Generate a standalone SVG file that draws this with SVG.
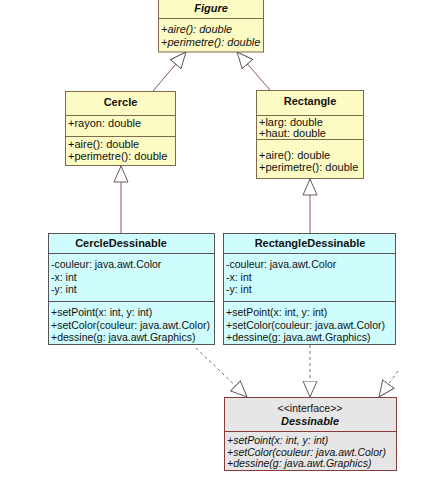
<svg xmlns="http://www.w3.org/2000/svg" width="433" height="483" viewBox="0 0 433 483">
  <style>
    text { font-family: "Liberation Sans", Arial, sans-serif; font-size: 10.5px; fill: #111; }
    .big { font-size: 11px; }
    .title { font-weight: bold; text-anchor: middle; font-size: 11px; }
    .abs { font-style: italic; }
    .yellow { fill: #fcfbc3; stroke: #7d6a4a; stroke-width: 1; }
    .cyan { fill: #cffcfc; stroke: #555; stroke-width: 1; }
    .iface { fill: #e6e6e6; stroke: #8a3a3a; stroke-width: 1; }
    .div-y { stroke: #7d6a4a; stroke-width: 1; }
    .div-c { stroke: #555; stroke-width: 1; }
    .div-i { stroke: #8a3a3a; stroke-width: 1; }
    .gen { stroke: #8a5a5a; stroke-width: 1; fill: none; }
    .real { stroke: #8a6a6a; stroke-width: 1; fill: none; stroke-dasharray: 3 3; }
  </style>
  <defs>
    <marker id="tri" viewBox="0 0 17 16" refX="16.5" refY="8" markerWidth="17" markerHeight="16" markerUnits="userSpaceOnUse" orient="auto">
      <path d="M0.5,1 L16.5,8 L0.5,15 Z" fill="#fff" stroke="#6a5a5a" stroke-width="1"/>
    </marker>
  </defs>

  <rect width="433" height="483" fill="#fff"/>

  <!-- connectors -->
  <g id="connectors">
    <line class="gen" x1="153" y1="91" x2="186" y2="52" marker-end="url(#tri)"/>
    <line class="gen" x1="270" y1="90" x2="237" y2="52" marker-end="url(#tri)"/>
    <line class="gen" x1="121" y1="233" x2="121" y2="166" marker-end="url(#tri)"/>
    <line class="gen" x1="310" y1="233" x2="310" y2="179" marker-end="url(#tri)"/>
    <line class="real" x1="196" y1="348" x2="247" y2="397" marker-end="url(#tri)"/>
    <line class="real" x1="310" y1="345" x2="310" y2="397" marker-end="url(#tri)"/>
    <line class="real" x1="398" y1="371" x2="379" y2="397" marker-end="url(#tri)"/>
  </g>

  <!-- Figure (abstract) -->
  <g id="figure">
    <rect class="yellow" x="158.5" y="-0.5" width="105" height="52.5"/>
    <line class="div-y" x1="158.5" y1="18.5" x2="263.5" y2="18.5"/>
    <text class="title abs" x="211" y="12">Figure</text>
    <text class="abs big" x="161" y="33">+aire(): double</text>
    <text class="abs big" x="161" y="46">+perimetre(): double</text>
  </g>

  <!-- Cercle -->
  <g id="cercle">
    <rect class="yellow" x="65.5" y="91.5" width="110" height="74"/>
    <line class="div-y" x1="65.5" y1="115.5" x2="175.5" y2="115.5"/>
    <line class="div-y" x1="65.5" y1="136.5" x2="175.5" y2="136.5"/>
    <text class="title" x="120.5" y="106">Cercle</text>
    <text class="big" x="68" y="127">+rayon: double</text>
    <text class="big" x="68" y="148">+aire(): double</text>
    <text class="big" x="68" y="160">+perimetre(): double</text>
  </g>

  <!-- Rectangle -->
  <g id="rectangle">
    <rect class="yellow" x="256.5" y="90.5" width="107" height="88"/>
    <line class="div-y" x1="256.5" y1="115.5" x2="363.5" y2="115.5"/>
    <line class="div-y" x1="256.5" y1="139.5" x2="363.5" y2="139.5"/>
    <text class="title" x="310" y="105">Rectangle</text>
    <text class="big" x="259" y="126">+larg: double</text>
    <text class="big" x="259" y="137">+haut: double</text>
    <text class="big" x="259" y="159">+aire(): double</text>
    <text class="big" x="259" y="171">+perimetre(): double</text>
  </g>

  <!-- CercleDessinable -->
  <g id="cercle-dessinable">
    <rect class="cyan" x="48.5" y="233.5" width="166" height="111"/>
    <line class="div-c" x1="48.5" y1="253.5" x2="214.5" y2="253.5"/>
    <line class="div-c" x1="48.5" y1="301.5" x2="214.5" y2="301.5"/>
    <text class="title" x="121" y="247">CercleDessinable</text>
    <text x="51" y="268">-couleur: java.awt.Color</text>
    <text x="51" y="281">-x: int</text>
    <text x="51" y="293">-y: int</text>
    <text x="51" y="316">+setPoint(x: int, y: int)</text>
    <text x="51" y="329">+setColor(couleur: java.awt.Color)</text>
    <text x="51" y="341">+dessine(g: java.awt.Graphics)</text>
  </g>

  <!-- RectangleDessinable -->
  <g id="rectangle-dessinable">
    <rect class="cyan" x="223.5" y="233.5" width="172" height="111"/>
    <line class="div-c" x1="223.5" y1="253.5" x2="395.5" y2="253.5"/>
    <line class="div-c" x1="223.5" y1="301.5" x2="395.5" y2="301.5"/>
    <text class="title" x="310" y="247">RectangleDessinable</text>
    <text x="226" y="268">-couleur: java.awt.Color</text>
    <text x="226" y="281">-x: int</text>
    <text x="226" y="293">-y: int</text>
    <text x="226" y="316">+setPoint(x: int, y: int)</text>
    <text x="226" y="329">+setColor(couleur: java.awt.Color)</text>
    <text x="226" y="341">+dessine(g: java.awt.Graphics)</text>
  </g>

  <!-- Dessinable (interface) -->
  <g id="dessinable">
    <rect class="iface" x="224.5" y="397.5" width="172" height="73"/>
    <line class="div-i" x1="224.5" y1="431.5" x2="396.5" y2="431.5"/>
    <text x="310" y="412" text-anchor="middle">&lt;&lt;interface&gt;&gt;</text>
    <text class="title abs" x="310" y="425">Dessinable</text>
    <text class="abs" x="227" y="444">+setPoint(x: int, y: int)</text>
    <text class="abs" x="227" y="456">+setColor(couleur: java.awt.Color)</text>
    <text class="abs" x="227" y="467">+dessine(g: java.awt.Graphics)</text>
  </g>
</svg>
